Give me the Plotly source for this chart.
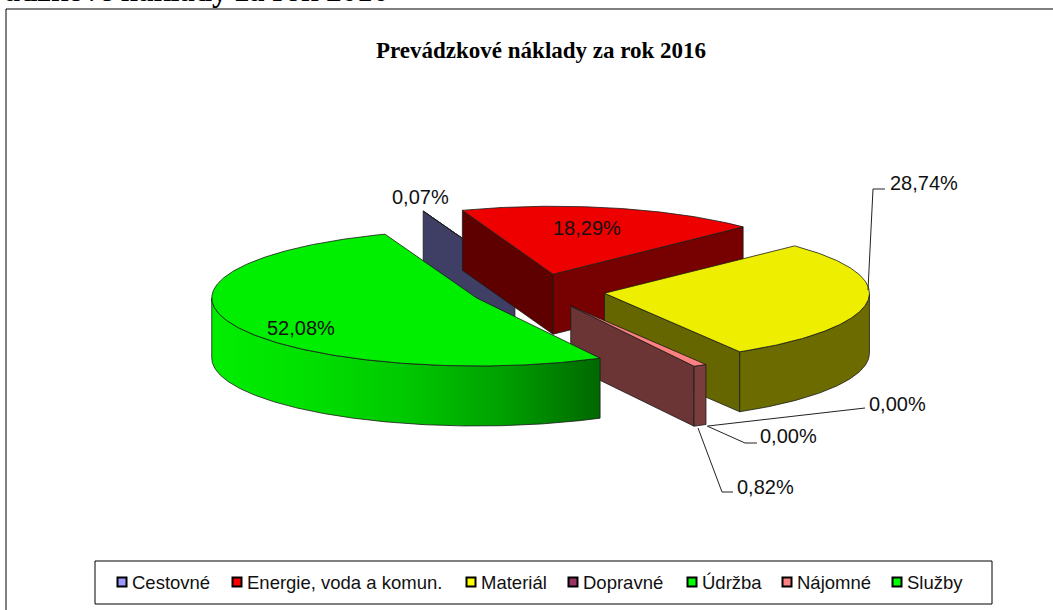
import numpy as np
import plotly.graph_objects as go

# ---- data ----
categories = ["Cestovné", "Energie, voda a komun.", "Materiál", "Dopravné", "Údržba", "Nájomné", "Služby"]
shares = [0.07, 18.29, 28.74, 0.00, 0.00, 0.82, 52.08]
chart_title = "Prevádzkové náklady za rok 2016"
page_heading = "Prevádzkové náklady za rok 2016"

# ---- styles ----
top_colors = ["#9999ff", "#ee0000", "#eeee00", "#993366", "#00ee00", "#ff8080", "#00ee00"]
legend_colors = ["#9999ff", "#ff0000", "#ffff00", "#993366", "#00ff00", "#ff8080", "#00ff00"]
radial_start_wall = ["#3f3f66", "#5f0000", "#666600", "#663355", "#006600", "#6b3535", "#006600"]
radial_end_wall = ["#3f3f66", "#770000", "#666600", "#663355", "#006600", "#6b3535", "#006600"]
outer_wall = ["#3f3f66", "#770000", "#6b6b00", "#663355", "#00aa00", "#7a3d3d", "#00aa00"]
EDGE = "#1a1a1a"

CX, CY, RX, RY, DEPTH = 538, 291, 265, 68, 60
EXPLODE = 0.253
START_DEG = -20.25

fig = go.Figure()


def poly(xs, ys, fill, gradient=None, width=0.8):
    kw = dict(x=xs, y=ys, mode="lines", fill="toself", line=dict(color=EDGE, width=width),
              hoverinfo="skip", showlegend=False)
    if gradient:
        kw["fillgradient"] = gradient
    else:
        kw["fillcolor"] = fill
    fig.add_trace(go.Scatter(**kw))


def rim(ax, ay, t):
    return ax + RX * np.sin(t), ay - RY * np.cos(t)


# ---- slice angles from shares ----
fractions = np.array(shares) / sum(shares)
edges = np.radians(START_DEG + 360 * np.concatenate([[0], np.cumsum(fractions)]))

# painter's order: categories run back to front, the big slice comes last
for i in range(len(shares)):
    if shares[i] == 0:
        continue
    t0, t1 = edges[i], edges[i + 1]
    mid = (t0 + t1) / 2
    ax, ay = CX + EXPLODE * RX * np.sin(mid), CY - EXPLODE * RY * np.cos(mid)
    arc = np.linspace(t0, t1, max(int(np.degrees(t1 - t0)) * 2, 2))
    ex, ey = rim(ax, ay, arc)

    # radial walls that face the viewer
    fx, fy = rim(ax, ay, t0)
    lx, ly = rim(ax, ay, t1)
    if np.sin(t0) < 0:
        poly([ax, fx, fx, ax, ax], [ay, fy, fy + DEPTH, ay + DEPTH, ay], radial_start_wall[i])
    if np.sin(t1) > 0:
        poly([ax, lx, lx, ax, ax], [ay, ly, ly + DEPTH, ay + DEPTH, ay], radial_end_wall[i])

    # outer wall: the front-facing part of the rim
    vis = arc[(arc > np.pi / 2) & (arc < 3 * np.pi / 2)]
    if len(vis) > 1:
        wx, wy = rim(ax, ay, vis)
        grad = None
        if i == 6:
            grad = dict(type="horizontal", start=wx.max(), stop=wx.min(),
                        colorscale=[[0, "#006800"], [0.25, "#00a000"], [0.5, "#00c800"],
                                    [0.75, "#00e000"], [1, "#00ee00"]])
        poly(np.r_[wx, wx[::-1], wx[0]], np.r_[wy, wy[::-1] + DEPTH, wy[0]], outer_wall[i], grad)

    # top face
    poly(np.r_[ax, ex, ax], np.r_[ay, ey, ay], top_colors[i])


# ---- leader lines ----
def line(xs, ys):
    fig.add_trace(go.Scatter(x=xs, y=ys, mode="lines", line=dict(color="#222222", width=1),
                             hoverinfo="skip", showlegend=False))


line([868, 873, 885], [290, 189, 189])
line([708, 865], [426, 408])
line([707, 745, 757], [426, 443, 443])
line([698, 722, 733], [428, 492, 492])

# ---- percentage labels ----
fmt = [f"{v:.2f}".replace(".", ",") + "%" for v in shares]
label_pos = [(420, 197), (587, 228), (924, 183), (897, 404), (788, 436), (765, 487), (301, 328)]
annotations = []
for txt, (x, y) in zip(fmt, label_pos):
    annotations.append(dict(x=x, y=y, text=txt, showarrow=False, xanchor="center", yanchor="middle",
                            font=dict(family="Liberation Sans", size=20, color="#111111")))

# ---- chart title and cropped page heading ----
annotations.append(dict(x=541, y=50, text=f"<b>{chart_title}</b>", showarrow=False,
                        font=dict(family="Liberation Serif", size=23, color="#000000")))
annotations.append(dict(x=390, y=0, yshift=10, text=f"<b>{page_heading}</b>", showarrow=False, xanchor="right",
                        yanchor="middle", font=dict(family="Liberation Serif", size=31, color="#000000")))

# ---- legend ----
legend_x = [122, 237, 471, 573, 692, 787, 897]
for name, col, x in zip(categories, legend_colors, legend_x):
    fig.add_trace(go.Scatter(x=[x], y=[582], mode="markers", hoverinfo="skip", showlegend=False,
                             marker=dict(symbol="square", size=9, color=col, line=dict(color="#000000", width=2))))
    annotations.append(dict(x=x + 8, y=582, text=name, showarrow=False, xanchor="left", yanchor="middle",
                            font=dict(family="Liberation Sans", size=18.5, color="#111111")))

shapes = [
    dict(type="rect", x0=95, y0=561, x1=992, y1=604, line=dict(color="#000000", width=1)),
    dict(type="rect", x0=6, y0=9, x1=1100, y1=660, line=dict(color="#000000", width=1)),
]

fig.update_layout(
    width=1053, height=610, margin=dict(l=0, r=0, t=0, b=0),
    paper_bgcolor="#ffffff", plot_bgcolor="#ffffff", showlegend=False,
    xaxis=dict(range=[0, 1053], visible=False, fixedrange=True),
    yaxis=dict(range=[610, 0], visible=False, fixedrange=True),
    annotations=annotations, shapes=shapes,
)
fig.write_html("out.html", config={"displayModeBar": False},
               post_script="document.body.style.margin='0';document.body.style.overflow='hidden';")
